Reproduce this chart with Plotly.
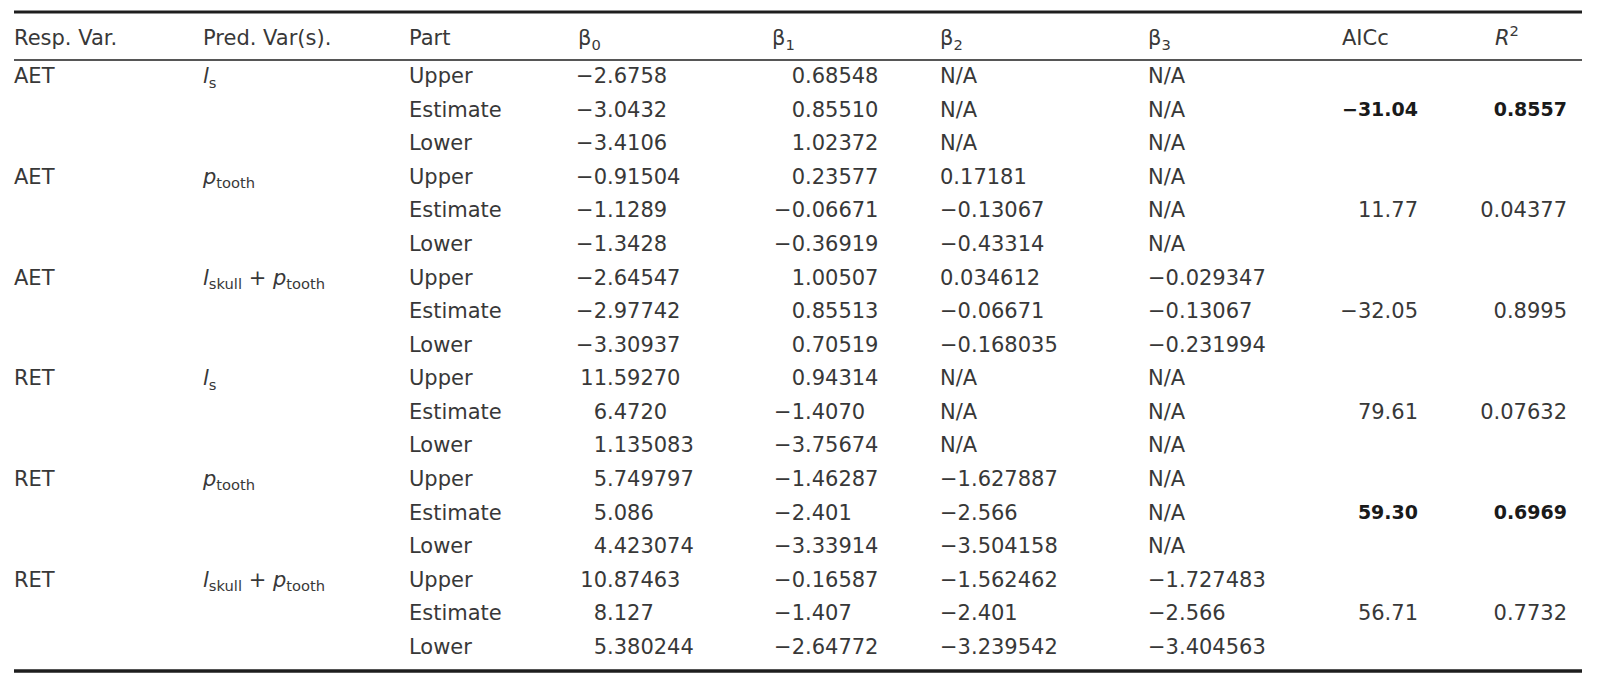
import plotly.graph_objects as go

# table content
headers = ["Resp. Var.", "Pred. Var(s).", "Part", "β<sub>0</sub>", "β<sub>1</sub>",
           "β<sub>2</sub>", "β<sub>3</sub>", "AICc", "<i>R</i><sup>2</sup>"]
resp_vars = ["AET", "AET", "AET", "RET", "RET", "RET"]
pred_vars = ["<i>l</i><sub>s</sub>",
             "<i>p</i><sub>tooth</sub>",
             "<i>l</i><sub>skull</sub> + <i>p</i><sub>tooth</sub>",
             "<i>l</i><sub>s</sub>",
             "<i>p</i><sub>tooth</sub>",
             "<i>l</i><sub>skull</sub> + <i>p</i><sub>tooth</sub>"]
parts = ["Upper", "Estimate", "Lower"]
beta0 = ["−2.6758", "−3.0432", "−3.4106",
         "−0.91504", "−1.1289", "−1.3428",
         "−2.64547", "−2.97742", "−3.30937",
         "11.59270", "6.4720", "1.135083",
         "5.749797", "5.086", "4.423074",
         "10.87463", "8.127", "5.380244"]
beta1 = ["0.68548", "0.85510", "1.02372",
         "0.23577", "−0.06671", "−0.36919",
         "1.00507", "0.85513", "0.70519",
         "0.94314", "−1.4070", "−3.75674",
         "−1.46287", "−2.401", "−3.33914",
         "−0.16587", "−1.407", "−2.64772"]
beta2 = ["N/A", "N/A", "N/A",
         "0.17181", "−0.13067", "−0.43314",
         "0.034612", "−0.06671", "−0.168035",
         "N/A", "N/A", "N/A",
         "−1.627887", "−2.566", "−3.504158",
         "−1.562462", "−2.401", "−3.239542"]
beta3 = ["N/A", "N/A", "N/A",
         "N/A", "N/A", "N/A",
         "−0.029347", "−0.13067", "−0.231994",
         "N/A", "N/A", "N/A",
         "N/A", "N/A", "N/A",
         "−1.727483", "−2.566", "−3.404563"]
aicc = ["−31.04", "11.77", "−32.05", "79.61", "59.30", "56.71"]
r_squared = ["0.8557", "0.04377", "0.8995", "0.07632", "0.6969", "0.7732"]
best_fit = [True, False, False, False, True, False]

FONT = dict(family="DejaVu Sans", size=21, color="#383838")
BOLD_FONT = dict(family="DejaVu Sans", size=19, color="#1a1a1a")
LINE_COLOR = "#1e1e1e"

# the page body has an 8px margin, so the axes are set up to map
# straight onto page pixels
PAD = 8
W, H = 1600, 687
HEADER_Y = 40
ROW_Y0 = 78
ROW_STEP = 33.56
COL_LEFT = {"resp": 14, "pred": 203, "part": 409, "b0": 578, "b1": 772,
            "b2": 940, "b3": 1148, "aicc": 1342, "r2": 1495}
B0_DEC = 607
B1_DEC = 805
AICC_RIGHT = 1418
R2_RIGHT = 1567

n_rows = len(beta0)
row_y = [ROW_Y0 + i * ROW_STEP for i in range(n_rows)]
group_y = [row_y[3 * g] for g in range(len(resp_vars))]
est_y = [row_y[3 * g + 1] for g in range(len(resp_vars))]


def text_trace(x, y, text, pos, font=FONT):
    return go.Scatter(x=x, y=y, text=text, mode="text", textposition=pos,
                      textfont=font, hoverinfo="skip", showlegend=False)


def split_dec(vals):
    ints = [v.split(".")[0] for v in vals]
    fracs = ["." + v.split(".")[1] for v in vals]
    return ints, fracs


fig = go.Figure()

# header
head_x = [COL_LEFT[k] for k in ["resp", "pred", "part", "b0", "b1", "b2", "b3", "aicc", "r2"]]
fig.add_trace(text_trace(head_x, [HEADER_Y] * len(headers), headers, "middle right"))

fig.add_trace(text_trace([COL_LEFT["resp"]] * len(resp_vars), group_y, resp_vars, "middle right"))
fig.add_trace(text_trace([COL_LEFT["pred"]] * len(pred_vars), group_y, pred_vars, "middle right"))
fig.add_trace(text_trace([COL_LEFT["part"]] * n_rows, row_y, parts * len(resp_vars), "middle right"))

# beta0 / beta1 aligned on the decimal point
for vals, xdec in [(beta0, B0_DEC), (beta1, B1_DEC)]:
    ints, fracs = split_dec(vals)
    fig.add_trace(text_trace([xdec] * n_rows, row_y, ints, "middle left"))
    fig.add_trace(text_trace([xdec] * n_rows, row_y, fracs, "middle right"))

fig.add_trace(text_trace([COL_LEFT["b2"]] * n_rows, row_y, beta2, "middle right"))
fig.add_trace(text_trace([COL_LEFT["b3"]] * n_rows, row_y, beta3, "middle right"))

# AICc and R2 sit on the Estimate row; best models in bold
for vals, xr in [(aicc, AICC_RIGHT), (r_squared, R2_RIGHT)]:
    plain = [(y, v) for y, v, b in zip(est_y, vals, best_fit) if not b]
    bold = [(y, "<b>%s</b>" % v) for y, v, b in zip(est_y, vals, best_fit) if b]
    fig.add_trace(text_trace([xr] * len(plain), [p[0] for p in plain],
                             [p[1] for p in plain], "middle left"))
    fig.add_trace(text_trace([xr] * len(bold), [p[0] for p in bold],
                             [p[1] for p in bold], "middle left", BOLD_FONT))

# rules
for y, w in [(12, 3), (60, 1.6), (671, 3.6)]:
    fig.add_shape(type="line", x0=14, x1=1582, y0=y, y1=y, xref="x", yref="y",
                  line=dict(color=LINE_COLOR, width=w))

fig.update_layout(
    width=W - 2 * PAD, height=H - 2 * PAD,
    margin=dict(l=0, r=0, t=0, b=0),
    paper_bgcolor="white", plot_bgcolor="white",
    xaxis=dict(range=[PAD, W - PAD], visible=False, fixedrange=True),
    yaxis=dict(range=[H - PAD, PAD], visible=False, fixedrange=True),
)

fig.write_html("out.html")
